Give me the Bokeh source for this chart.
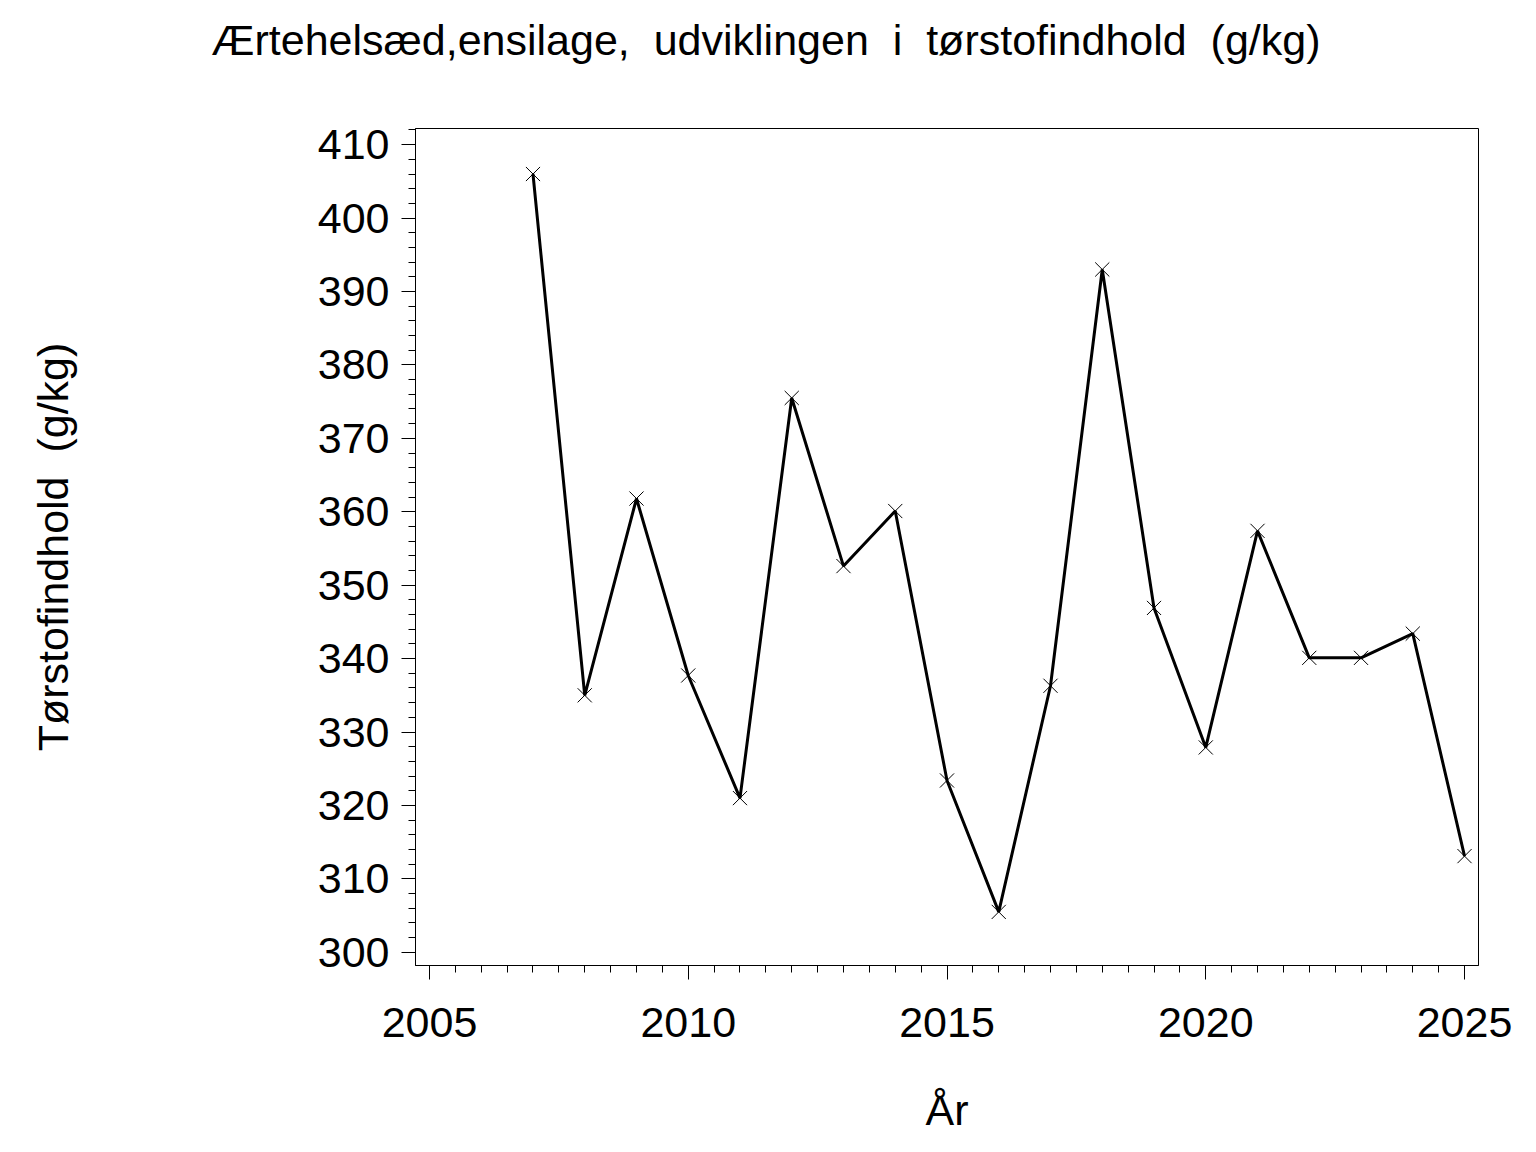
from bokeh.plotting import figure
from bokeh.models import Range1d, SingleIntervalTicker, Title
from bokeh.embed import file_html
from bokeh.resources import INLINE

years = [2007, 2008, 2009, 2010, 2011, 2012, 2013, 2014, 2015, 2016,
         2017, 2018, 2019, 2020, 2021, 2022, 2023, 2024, 2025]
drymatter = [406.0, 335.0, 361.8, 337.7, 321.0, 375.5, 352.6, 360.1, 323.4, 305.5,
             336.3, 393.0, 346.9, 327.9, 357.4, 340.1, 340.1, 343.4, 313.1]

title_text = "Ærtehelsæd,ensilage, \u00a0udviklingen \u00a0i \u00a0tørstofindhold \u00a0(g/kg)"
x_label = "År"
y_label = "Tørstofindhold \u00a0(g/kg)"

FONT = "Liberation Sans"

W, H = 1520, 1136
p = figure(width=W, height=H, output_backend="svg", toolbar_location=None,
           x_range=Range1d(2004.73, 2025.27), y_range=Range1d(298.2, 412.2),
           min_border_left=415, min_border_right=42, min_border_top=128, min_border_bottom=168,
           title=title_text)
p.title.align = "left"
p.title.vertical_align = "top"
p.title.offset = -204
p.title.standoff = 28
p.title.text_font = FONT
p.title.text_font_size = "43px"
p.title.text_font_style = "normal"
p.title.text_color = "black"

# thin spacer between title and frame
spacer = Title(text=" ", text_font_size="1px", standoff=46)
p.add_layout(spacer, "above")

p.xgrid.visible = False
p.ygrid.visible = False
p.outline_line_color = "black"
p.outline_line_width = 1
p.background_fill_color = "white"
p.border_fill_color = "white"

p.line(years, drymatter, line_color="black", line_width=3)
p.scatter(years, drymatter, marker="x", size=20, line_color="black", line_width=1)

xa = p.xaxis[0]
xa.ticker = SingleIntervalTicker(interval=5, num_minor_ticks=10)
xa.axis_label = x_label
ya = p.yaxis[0]
ya.ticker = SingleIntervalTicker(interval=10, num_minor_ticks=5)
ya.axis_label = y_label

for ax in (xa, ya):
    ax.axis_line_color = "black"
    ax.major_tick_line_color = "black"
    ax.minor_tick_line_color = "black"
    ax.major_tick_in = 0
    ax.minor_tick_in = 0
    ax.major_tick_out = 14
    ax.minor_tick_out = 7
    ax.major_label_text_font = FONT
    ax.major_label_text_font_size = "43px"
    ax.major_label_text_color = "black"
    ax.axis_label_text_font = FONT
    ax.axis_label_text_font_size = "43px"
    ax.axis_label_text_font_style = "normal"
    ax.axis_label_text_color = "black"

xa.major_label_standoff = 28
xa.axis_label_standoff = 46
ya.major_label_standoff = 12
ya.axis_label_standoff = 238

open("out.html", "w").write(file_html(p, INLINE))
